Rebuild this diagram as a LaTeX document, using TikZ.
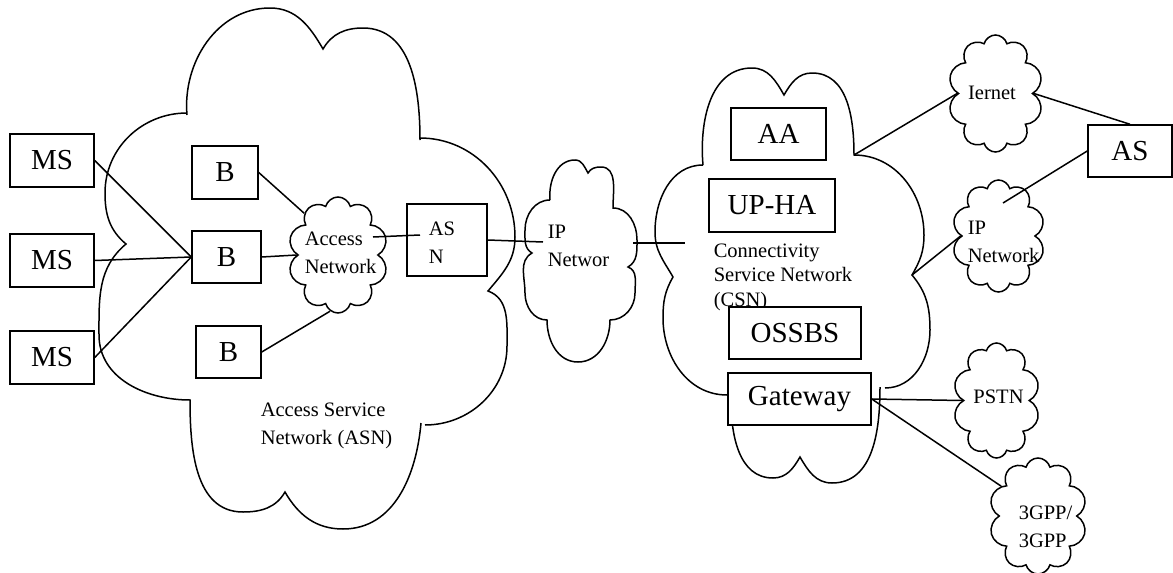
\documentclass[tikz,border=0pt]{standalone}
\usepackage{fontspec}
\setmainfont{Liberation Serif}
\usetikzlibrary{shapes.symbols}

\begin{document}
\begin{tikzpicture}[x=1pt, y=1pt, line width=1.5pt,
		box/.style={draw, fill=white, inner sep=0pt, font=\fontsize{29}{32}\selectfont},
		puff/.style={draw, cloud, cloud puffs=10, cloud ignores aspect, inner sep=0pt},
		lbl/.style={inner sep=0pt, align=left, anchor=north west, font=\fontsize{20.5}{28}\selectfont}]
	\useasboundingbox (0,0) rectangle (1173,-573);
	\draw (187,-115) to[out=95,in=180] (270,-8) to[out=0,in=120] (323,-49) to[out=60,in=180] (363,-28) to[out=0,in=90] (420,-140)
		(420,-138) to[out=0,in=90] (515,-237) to[out=-90,in=50] (488,-291)
		to[out=-20,in=90] (507,-346) to[out=-90,in=0] (425,-425)
		(421,-423) to[out=-95,in=0] (343,-529) to[out=180,in=-60] (285,-492)
		to[out=-120,in=0] (243,-512) to[out=180,in=-90] (190,-400)
		to[out=180,in=-90] (99,-335) to[out=90,in=-140] (126,-244)
		to[out=140,in=-90] (105,-193) to[out=90,in=180] (187,-113);
	\draw (703,-165) to[out=95,in=180] (752,-68) to[out=0,in=120] (784,-95) to[out=60,in=180] (812,-73) to[out=0,in=90] (854,-155)
		to[out=0,in=90] (924,-235) to[out=-90,in=60] (912,-275)
		to[out=-50,in=90] (930,-330) to[out=-90,in=0] (885,-388)
		(880,-387) to[out=-90,in=0] (832,-483) to[out=180,in=-60] (800,-457)
		to[out=-120,in=0] (773,-478) to[out=180,in=-90] (731,-400)
		(727,-395) to[out=180,in=-90] (663,-318) to[out=90,in=-120] (673,-277)
		to[out=120,in=-90] (655,-232) to[out=90,in=180] (703,-165);
	\draw (550,-200) to[out=95,in=180] (575,-160) to[out=0,in=120] (588,-173) to[out=60,in=180] (601,-167) to[out=0,in=90] (613,-208)
		to[out=0,in=90] (637,-240) to[out=-90,in=30] (628,-267)
		to[out=-20,in=90] (635,-293) to[out=-90,in=0] (610,-320)
		to[out=-90,in=0] (578,-362) to[out=180,in=-90] (547,-320)
		to[out=180,in=-90] (525,-293) to[out=90,in=-150] (532,-253)
		to[out=150,in=-90] (525,-230) to[out=90,in=180] (550,-200);
	\coordinate (csntop) at (854,-155);
	\coordinate (csnnotch) at (912,-275);
	\coordinate (ipin) at (543,-242);
	\coordinate (ipout) at (633,-243);
	\coordinate (csnin) at (685,-243);
	\coordinate (anr) at (373,-237);
	\coordinate (asnl) at (420,-235);
	\coordinate (ipnin) at (1003,-203);

	\foreach \i/\y in {1/160.5, 2/260.5, 3/357.5}
		\node[box, minimum width=84pt, minimum height=53pt] (ms\i) at (52,-\y) {MS};
	\node[box, minimum width=66pt, minimum height=53pt] (b1) at (225,-172.5) {B};
	\node[box, minimum width=69pt, minimum height=52pt] (b2) at (226.5,-257) {B};
	\node[box, minimum width=65pt, minimum height=52pt] (b3) at (228.5,-352) {B};
	\node[puff, minimum width=100pt, minimum height=116pt] (an) at (338,-255) {};
	\node[lbl] (anlbl) at (304,-231) {Access\\Network};
	\node[draw, inner sep=0pt, minimum width=80pt, minimum height=72pt] (asn) at (447,-240) {};
	\node[lbl] (asnlbl) at (428,-221) {AS\\N};
	\node[lbl] (asnname) at (260,-402) {Access Service\\Network (ASN)};
	\node[lbl] (iplbl) at (547,-224) {IP\\Networ};
	\node[box, minimum width=95pt, minimum height=52pt] (aa) at (778.5,-134) {AA};
	\node[box, minimum width=126pt, minimum height=53pt] (upha) at (772,-205.5) {UP-HA};
	\node[lbl, font=\fontsize{20.5}{24.5}\selectfont] (csnname) at (713,-243) {Connectivity\\Service Network\\(CSN)};
	\node[box, minimum width=132pt, minimum height=52pt] (ossbs) at (795,-333) {OSSBS};
	\node[box, minimum width=143pt, minimum height=52pt] (gw) at (799.5,-399) {Gateway};
	\node[puff, minimum width=95pt, minimum height=117pt] (iernet) at (995.5,-93.5) {};
	\node[anchor=base, inner sep=0pt, font=\fontsize{20.5}{28}\selectfont] (iernetlbl) at (992,-99) {Iernet};
	\node[puff, minimum width=93pt, minimum height=112pt] (ipn) at (998.5,-236) {};
	\node[lbl] (ipnlbl) at (967,-220) {IP\\Network};
	\node[puff, minimum width=87pt, minimum height=115pt] (pstn) at (996.5,-400.5) {};
	\node[anchor=base, inner sep=0pt, font=\fontsize{20.5}{28}\selectfont] (pstnlbl) at (998.5,-403) {PSTN};
	\node[puff, minimum width=98pt, minimum height=116pt] (gpp) at (1038,-516) {};
	\node[lbl] (gpplbl) at (1018,-505) {3GPP/\\3GPP};
	\node[box, minimum width=84pt, minimum height=52pt] (as) at (1130,-151) {AS};

	\foreach \i in {1, 2, 3}
		\draw (ms\i.east) -- (b2.west);
	\draw (b1.east) -- (an.129);
	\draw (b2.east) -- (an.180);
	\draw (b3.east) -- (an.262);
	\draw (anr) -- (asnl);
	\draw (asn.east) -- (ipin);
	\draw (ipout) -- (csnin);
	\draw (csntop) -- (iernet.west);
	\draw (csnnotch) -- (ipn.west);
	\draw (iernet.east) -- (as.north);
	\draw (as.west) -- (ipnin);
	\draw (gw.east) -- (pstn.west);
	\draw (gw.east) -- (gpp.141);
\end{tikzpicture}
\end{document}
